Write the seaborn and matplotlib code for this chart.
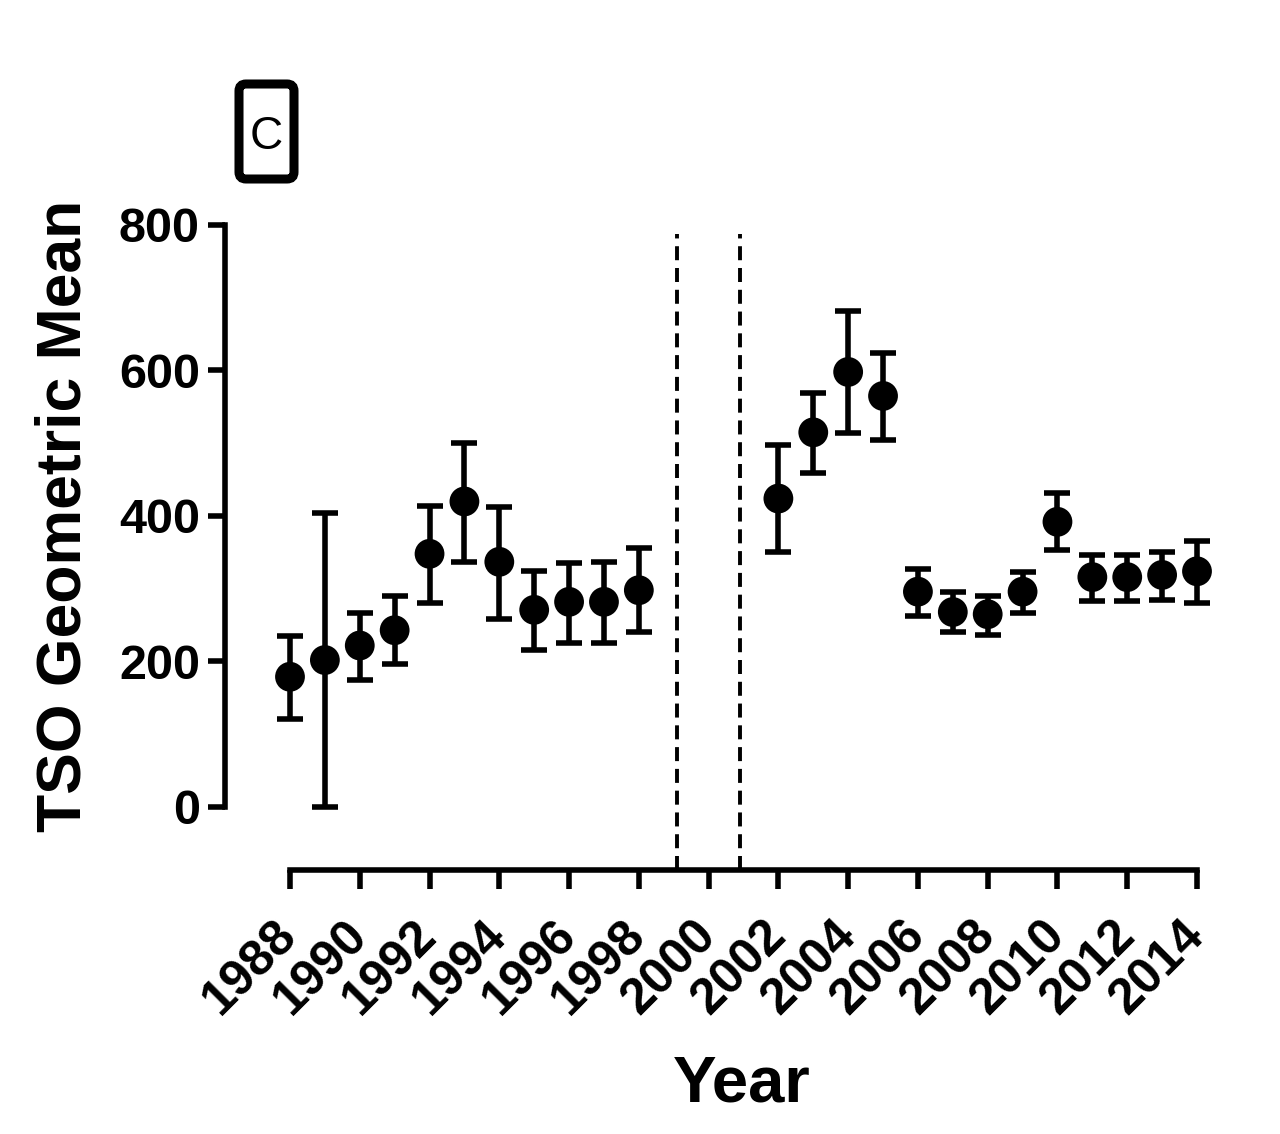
import matplotlib
matplotlib.use("Agg")
import matplotlib.pyplot as plt
from matplotlib.patches import FancyBboxPatch
from matplotlib.transforms import IdentityTransform
import seaborn as sns
import pandas as pd

years = [1988, 1989, 1990, 1991, 1992, 1993, 1994, 1995, 1996, 1997, 1998,
         2002, 2003, 2004, 2005, 2006, 2007, 2008, 2009, 2010, 2011, 2012, 2013, 2014]
gmean = [179, 202, 222, 243, 348, 420, 337, 271, 282, 282, 298,
         424, 515, 598, 565, 296, 268, 265, 296, 392, 316, 316, 319, 324]
ci_low = [121, 0, 175, 196, 281, 337, 259, 216, 226, 225, 240,
          351, 459, 514, 504, 262, 240, 237, 266, 353, 283, 283, 285, 281]
ci_high = [235, 404, 266, 290, 414, 501, 413, 325, 336, 337, 356,
           498, 569, 682, 624, 327, 296, 290, 323, 431, 346, 346, 350, 366]
xticks = list(range(1988, 2015, 2))
yticks = [0, 200, 400, 600, 800]
gap_lines = [1999.1, 2000.9]

df = pd.DataFrame({"Year": years, "Mean": gmean, "Low": ci_low, "High": ci_high})

sns.set_theme(style="ticks")
plt.rcParams["font.family"] = ["Liberation Sans", "DejaVu Sans"]
plt.rcParams["font.weight"] = "bold"

W, H = 1280, 1134
fig = plt.figure(figsize=(W / 100, H / 100), dpi=100)
px_per_year = (1197 - 290) / 26
right_px = 1240
ax = fig.add_axes([225 / W, 1 - 870 / H, (right_px - 225) / W, (870 - 225) / H])

lw = 4.0
ax.errorbar(df["Year"], df["Mean"],
            yerr=[df["Mean"] - df["Low"], df["High"] - df["Mean"]],
            fmt="none", ecolor="black", elinewidth=lw, capsize=9.5, capthick=lw,
            zorder=2, clip_on=False)
sns.scatterplot(data=df, x="Year", y="Mean", ax=ax, color="black", s=460,
                edgecolor="none", zorder=3, legend=False, clip_on=False)

for gx in gap_lines:
    ax.plot([gx, gx], [-87, 787], color="black", lw=2.8, linestyle=(0, (3.6, 2.0)),
            zorder=1, clip_on=False)

x_left = 1988 - (290 - 225) / px_per_year
x_right = 2014 + (right_px - 1197) / px_per_year
ax.set_xlim(x_left, x_right)
ax.set_ylim(-86.6, 800)

for s in ["top", "right"]:
    ax.spines[s].set_visible(False)
for s in ["left", "bottom"]:
    ax.spines[s].set_linewidth(lw)
    ax.spines[s].set_color("black")
    ax.spines[s].set_capstyle("projecting")
ax.spines["left"].set_bounds(0, 800)
ax.spines["bottom"].set_bounds(1988, 2014)

ax.set_yticks(yticks)
ax.set_yticklabels([str(v) for v in yticks])
ax.set_xticks(xticks)
ax.set_xticklabels([str(v) for v in xticks], rotation=45, ha="right", va="center",
                   rotation_mode="anchor")
ax.tick_params(axis="y", length=12, width=lw, pad=6, labelsize=35, color="black",
               labelcolor="black")
ax.tick_params(axis="x", length=14, width=lw, pad=28, labelsize=36, color="black",
               labelcolor="black")
for lab in ax.get_xticklabels() + ax.get_yticklabels():
    lab.set_fontweight("bold")

ax.set_xlabel("")
ax.set_ylabel("")
fig.text(64 / W, 1 - 516 / H, "TSO Geometric Mean", rotation=90, ha="center",
         va="center", fontsize=45, fontweight="bold", color="black")
fig.text(742 / W, 1 - 1085 / H, "Year", ha="center", va="center", fontsize=47,
         fontweight="bold", color="black")

box = FancyBboxPatch((239, H - 179), 55, 95, boxstyle="round,pad=0,rounding_size=7",
                     transform=IdentityTransform(), facecolor="white",
                     edgecolor="black", linewidth=6.5)
fig.add_artist(box)
fig.text(266 / W, 1 - 137 / H, "C", ha="center", va="center", fontsize=33,
         fontweight="normal", color="black")

fig.savefig("out.png", dpi=100)
